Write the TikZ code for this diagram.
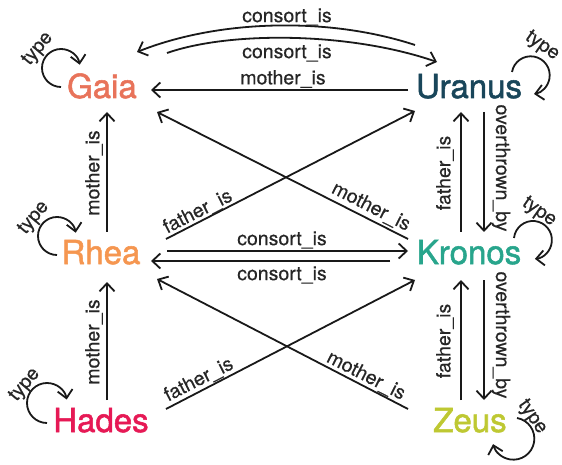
\documentclass[tikz,border=0pt]{standalone}
\usepackage{fontspec}
\setmainfont{TeX Gyre Heros}
\newfontfamily\entfont{TeX Gyre Heros}[FakeBold=1.6]
\newfontfamily\relfont{TeX Gyre Heros}[FakeBold=0.4]
\usetikzlibrary{arrows.meta,calc}
\definecolor{cGaia}{HTML}{E8735A}
\definecolor{cUranus}{HTML}{19465A}
\definecolor{cRhea}{HTML}{F59650}
\definecolor{cKronos}{HTML}{28A58C}
\definecolor{cHades}{HTML}{E61955}
\definecolor{cZeus}{HTML}{BEC832}
\tikzset{
  entity/.style={inner sep=0pt, anchor=base, font=\entfont\fontsize{33}{36}\selectfont},
  rel/.style={inner sep=0pt, font=\relfont\fontsize{19.5}{22}\selectfont, text=black!85},
  arr/.style={draw=black!90, line width=1.8pt, -{Straight Barb[length=8pt,width=15pt,line width=1.8pt]}},
}
\begin{document}
\begin{tikzpicture}[x=1pt,y=1pt]
\useasboundingbox (0,0) rectangle (562,464);
% entities
\node[entity, text=cGaia]   (G) at (102,366) {Gaia};
\node[entity, text=cUranus] (U) at (469,366) {Uranus};
\node[entity, text=cRhea]   (R) at (101,200) {Rhea};
\node[entity, text=cKronos] (K) at (469,200) {Kronos};
\node[entity, text=cHades]  (H) at (101,32)  {Hades};
\node[entity, text=cZeus]   (Z) at (470,32)  {Zeus};

% Uranus <-> Gaia consort arcs
\draw[arr] ($(U.base)+(-54,53)$) .. controls +(-85,28) and +(83,33) .. ($(G.base)+(35,46)$);
\draw[arr] ($(G.base)+(65,45)$) .. controls +(63,22) and +(-87,30) .. ($(U.base)+(-32,36)$);
\node[rel] (l1) at (287,447) {consort\_is};
\node[rel] (l2) at (287,411) {consort\_is};
% Uranus -> Gaia mother
\draw[arr] ($(U.base)+(-61,8)$) -- ($(G.base)+(49,8)$);
\node[rel] (l3) at (283,385) {mother\_is};
% Rhea -> Gaia
\draw[arr] ($(R.base)+(6,32)$) -- ($(G.base)+(5,-14)$);
\node[rel, rotate=90] (l4) at (94,291) {mother\_is};
% Rhea -> Uranus father
\draw[arr] ($(R.base)+(65,25)$) -- ($(U.base)+(-54,-13)$);
\node[rel, rotate=27] (l5) at (198,252) {father\_is};
% Kronos -> Gaia mother
\draw[arr] ($(K.base)+(-61,25)$) -- ($(G.base)+(55,-14)$);
\node[rel, rotate=-27] (l6) at (371,257) {mother\_is};
% Kronos -> Uranus father ; Uranus -> Kronos overthrown
\draw[arr] ($(K.base)+(-8,32)$) -- ($(U.base)+(-8,-14)$);
\node[rel, rotate=90] (l7) at (445,291) {father\_is};
\draw[arr] ($(U.base)+(15,-14)$) -- ($(K.base)+(15,32)$);
\node[rel, rotate=-90] (l8) at (501,296) {overthrown\_by};
% Rhea <-> Kronos consort
\draw[arr] ($(R.base)+(66,13)$) -- ($(K.base)+(-61,13)$);
\node[rel] (l9) at (282,224) {consort\_is};
\draw[arr] ($(K.base)+(-79,3)$) -- ($(R.base)+(50,3)$);
\node[rel] (l10) at (282,189) {consort\_is};
% Hades -> Rhea mother
\draw[arr] ($(H.base)+(6,32)$) -- ($(R.base)+(6,-18)$);
\node[rel, rotate=90] (l11) at (94,122) {mother\_is};
% Hades -> Kronos father
\draw[arr] ($(H.base)+(65,23)$) -- ($(K.base)+(-54,-16)$);
\node[rel, rotate=27] (l12) at (199,84) {father\_is};
% Zeus -> Rhea mother
\draw[arr] ($(Z.base)+(-62,23)$) -- ($(R.base)+(56,-15)$);
\node[rel, rotate=-27] (l13) at (366,88) {mother\_is};
% Zeus -> Kronos father ; Kronos -> Zeus overthrown
\draw[arr] ($(Z.base)+(-9,32)$) -- ($(K.base)+(-8,-16)$);
\node[rel, rotate=90] (l14) at (445,123) {father\_is};
\draw[arr] ($(K.base)+(15,-16)$) -- ($(Z.base)+(14,32)$);
\node[rel, rotate=-90] (l15) at (501,129) {overthrown\_by};

% type loops
\draw[arr] ($(G.base)+(-41,11)$) arc[start angle=270, end angle=10, radius=19];
\node[rel, rotate=50] (t1) at (38,415) {type};
\draw[arr] ($(U.base)+(43,26)$) arc[start angle=170, end angle=-80, radius=19];
\node[rel, rotate=-35] (t2) at (542,418) {type};
\draw[arr] ($(R.base)+(-44,9)$) arc[start angle=270, end angle=10, radius=19];
\node[rel, rotate=50] (t3) at (34,246) {type};
\draw[arr] ($(K.base)+(45,26)$) arc[start angle=174, end angle=-84, radius=19];
\node[rel, rotate=-35] (t4) at (539,252) {type};
\draw[arr] ($(H.base)+(-54,9)$) arc[start angle=270, end angle=10, radius=20];
\node[rel, rotate=50] (t5) at (25,79) {type};
\draw[arr] ($(Z.base)+(47,14)$) arc[start angle=80, end angle=-165, radius=21];
\node[rel, rotate=-55] (t6) at (532,47) {type};
\end{tikzpicture}
\end{document}
